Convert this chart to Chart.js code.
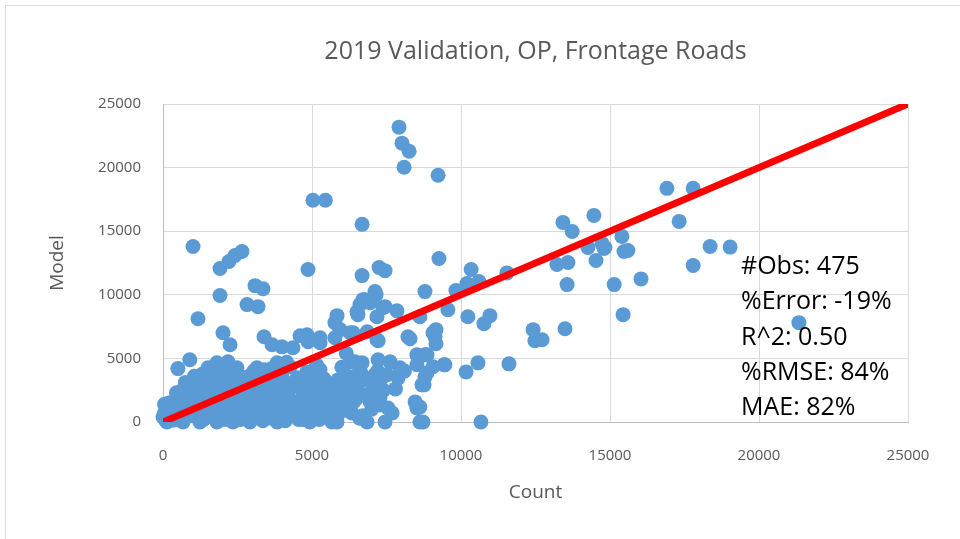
<!DOCTYPE html>
<html>
<head>
<meta charset="utf-8">
<title>2019 Validation, OP, Frontage Roads</title>
<script src="https://cdn.jsdelivr.net/npm/chart.js@4"></script>
<style>
    html, body { margin: 0; padding: 0; background: #ffffff; overflow: hidden; }
    #wrap { position: relative; width: 960px; height: 539px; }
    #frame { position: absolute; left: 5px; top: 5px; width: 1000px; height: 600px; border: 1px solid #d9d9d9; }
    #validationChart { position: absolute; left: 0; top: 0; }
</style>
</head>
<body>
<div id="wrap">
    <div id="frame"></div>
    <canvas id="validationChart" width="960" height="539"></canvas>
</div>
<script>
// Observed counts (x) and modelled volumes (y), one entry per link
const countVals = [
    1007, 5030, 5450, 7920, 8020, 8260, 8090, 9230, 6680, 1913, 2215, 2416, 2650, 4866,
    6680, 7250, 7450, 9260, 3088, 3356, 1913, 7115, 8790, 16910, 17790, 17320, 18360, 19030,
    17790, 13420, 13730, 14460, 15400, 15470, 15600, 14260, 14730, 14800, 14530, 13220, 13590, 13560,
    15140, 16040, 10340, 10600, 10200, 11540, 9830, 15440, 9560, 10230, 10970, 10770, 12420, 12480,
    12720, 13490, 9160, 9130, 9160, 8790, 9430, 9060, 10570, 10170, 11610, 8790, 8760, 8620,
    8725, 10670, 21340, 14830,
    7150, 6710, 6610, 6950, 7450, 7850, 6540, 5840, 7180, 8620, 5940, 6380, 6850, 8220,
    4833, 5270, 8290, 9060, 7180, 5270, 6340, 6680, 7220, 7620, 7950, 8520, 8860, 8520,
    9460, 8860, 8690, 7520, 7890, 5840, 6510, 7050, 7220, 7280, 6040, 8460, 8520, 8620,
    7690, 7450, 6340, 6850, 5670, 5770, 6510, 6780, 7380, 5770, 6280, 7220, 6440, 7280,
    5840, 5870, 6180,
    2820, 3188, 1175, 2014, 2250, 3390, 3660, 3990, 4360, 4600, 4870, 5270, 4830, 4500,
    5170, 4830, 5370, 5670, 5370, 4930, 4260, 4500, 4930, 3860, 3830, 3260, 3260, 2920,
    2350, 1810, 1240, 670, 130, 500, 900, 740, 235, 0, 1510, 1810, 2180, 2480,
    1810, 1510, 1240, 1140, 970, 2350, 2480, 3150, 3260, 3590, 2920, 2250, 1810, 2580,
    3830, 4160, 3990, 4260, 3830, 2150, 1410,
    200, 400, 600, 800, 1000, 1200, 1400, 1600, 1800, 2000, 2200, 2400, 2600, 2800,
    3000, 3200, 3400, 3600, 3800, 4000, 4200, 4400, 4600, 4800, 5000, 5200, 5400, 5600,
    5800, 6000, 6200, 6400, 6600, 6800, 7000, 7200,
    100, 300, 350, 550, 700, 850, 950, 1100, 1300, 1350, 1500, 1650, 1700, 1900,
    2050, 2100, 2300, 2450, 2550, 2700, 2750, 2900, 3050, 3100, 3300, 3350, 3450, 3550,
    3700, 3750, 3900, 4050, 4100, 4300, 4450, 4550, 4700, 4750, 4900, 5050, 5100, 5300,
    450, 650, 1050, 1250, 1450, 1550, 1750, 1950, 2150, 2350, 2650, 2850, 3150, 3250,
    3500, 3650, 3850, 3950, 4150, 4350, 4650, 4850, 5150, 5500, 5650, 5950, 6150, 6450,
    50, 150, 250, 1150, 1850, 2500, 3400, 4250, 5250, 6250, 6700, 7350, 7800, 8100,
    150, 300, 500, 650, 800, 950, 1100, 1250, 1400, 1550, 1700, 1850, 2000, 2150,
    2300, 2450, 2600, 2750, 2900, 3050, 3200, 3350, 3500, 3650, 3800, 3950, 4100, 4250,
    4400, 4550, 4700, 4850, 5000, 5150, 5300, 5450, 5600, 5750, 5900, 6050, 6200, 6350,
    6500, 6650, 6800, 6950, 7100, 7250, 7400, 7550,
    50, 200, 350, 450, 600, 750, 900, 1050, 1200, 1350, 1500, 300, 700, 1150,
    1600, 1900, 2400, 2950, 3400, 3900,
    3100, 3300, 3500, 3700, 3900, 4100, 4300, 4500, 4700, 4900, 5100, 5300, 5500, 5700,
    5900, 6100, 2700, 2500, 2300, 2100, 1900, 1700, 1500, 1300, 1100
];
const modelVals = [
    13800, 17430, 17430, 23180, 21920, 21290, 20030, 19400, 15540, 12070, 12620, 13090, 13400, 11990,
    11510, 12150, 11900, 12850, 10720, 10480, 9940, 10250, 10250, 18370, 18370, 15770, 13800, 13750,
    12300, 15690, 14980, 16240, 14590, 13400, 13480, 13720, 14040, 13640, 12700, 12380, 12540, 10800,
    10800, 11250, 11990, 11040, 10880, 11720, 10330, 8440, 8830, 8280, 8360, 7730, 7260, 6390,
    6470, 7330, 7260, 6700, 6150, 5280, 4500, 4340, 4650, 3940, 4570, 3550, 2920, 1180,
    0, 0, 7810, 13720,
    10010, 9620, 9230, 9380, 9070, 8750, 8440, 8360, 8280, 8280, 7260, 7020, 7100, 6700,
    6860, 6620, 6550, 7020, 6470, 6230, 4730, 4650, 4890, 4730, 4260, 5280, 5280, 4500,
    4500, 3860, 2920, 3710, 3470, 3150, 2760, 2760, 2370, 1340, 2130, 1580, 1100, 0,
    710, 0, 710, 0, 0, 7810, 8670, 9620, 8990, 6620, 7020, 6390, 4730, 1890,
    0, 3310, 2290,
    9230, 9070, 8120, 7020, 6070, 6700, 6070, 5910, 5840, 6780, 6310, 4100, 3940, 3470,
    3150, 2520, 2130, 1500, 790, 950, 1100, 390, 0, 710, 0, 1100, 390, 0,
    0, 0, 0, 0, 0, 4200, 4890, 1730, 790, 390, 4260, 4650, 4730, 4260,
    3710, 3080, 2520, 1970, 1180, 3310, 3150, 4260, 3310, 2760, 2290, 1970, 1730, 1500,
    2290, 2520, 3550, 4340, 4650, 950, 710,
    200, 600, 300, 900, 500, 1500, 300, 1100, 2600, 400, 1300, 2400, 600, 1800,
    3000, 1500, 500, 1900, 3300, 1300, 2000, 600, 2900, 1700, 2400, 500, 3400, 2600,
    1200, 4300, 3600, 1600, 300, 3300, 1000, 4000,
    100, 1200, 150, 2100, 400, 2900, 1600, 700, 3400, 200, 2000, 3600, 600, 2800,
    1100, 200, 3900, 800, 2300, 400, 3500, 1300, 4000, 700, 2600, 100, 1800, 3700,
    500, 2200, 1000, 3000, 100, 2700, 1400, 200, 2100, 3200, 900, 1700, 300, 2800,
    300, 2500, 3200, 100, 1900, 3900, 600, 2200, 1000, 100, 2900, 600, 2000, 300,
    1200, 4200, 2500, 800, 4700, 1500, 1100, 200, 4500, 2700, 600, 1800, 5400, 3600,
    1400, 500, 1000, 600, 300, 1000, 300, 3000, 200, 1300, 500, 3500, 2600, 4000,
    600, 200, 1000, 300, 1400, 700, 2200, 400, 1800, 900, 2700, 100, 1500, 3300,
    800, 1900, 200, 2600, 1000, 500, 2000, 1300, 2800, 300, 1100, 2300, 700, 1600,
    3000, 900, 200, 3500, 1200, 1900, 3000, 1000, 2100, 400, 1700, 2800, 900, 3100,
    1900, 3800, 2100, 1600, 3700, 2900, 2500, 1100,
    700, 1500, 900, 2300, 1700, 3100, 2500, 3600, 2900, 3800, 2400, 300, 600, 1900,
    3300, 4300, 1100, 3700, 4100, 2600,
    600, 1800, 1100, 300, 1700, 2700, 900, 1600, 1100, 2000, 1400, 1200, 600, 2200,
    700, 1200, 900, 1700, 500, 2700, 1000, 400, 1200, 2300, 1600
];

// 1:1 reference line
const lineX = [0, 25000];
const lineY = [0, 25000];

// Axis range
const axisMin = 0;
const axisMax = 25000;
const axisStep = 5000;

// Summary statistics shown in the plot
const statLines = ['#Obs: 475', '%Error: -19%', 'R^2: 0.50', '%RMSE: 84%', 'MAE: 82%'];

const FONT = '"Open Sans", sans-serif';
const GREY = '#595959';

// Draws the statistics block inside the plot area
const statsPlugin = {
    id: 'statsText',
    afterDraw(chart) {
        const { ctx, chartArea } = chart;
        ctx.save();
        ctx.font = '25px ' + FONT;
        ctx.fillStyle = '#000000';
        ctx.textAlign = 'left';
        ctx.textBaseline = 'middle';
        statLines.forEach((line, i) => {
            ctx.fillText(line, chartArea.left + 578, chartArea.top + 163 + i * 35.3);
        });
        ctx.restore();
    }
};

const points = countVals.map((x, i) => ({ x, y: modelVals[i] }));
const linePoints = lineX.map((x, i) => ({ x, y: lineY[i] }));

// plain numbers on the ticks, no thousands separator
const plainTick = value => String(value);

new Chart(document.getElementById('validationChart'), {
    type: 'scatter',
    data: {
        datasets: [
            {
                type: 'line',
                data: linePoints,
                borderColor: '#ff0000',
                borderWidth: 7,
                pointRadius: 0,
                fill: false,
                order: 0
            },
            {
                data: points,
                backgroundColor: '#5b9bd5',
                borderColor: '#5b9bd5',
                borderWidth: 0,
                pointRadius: 7.5,
                clip: false,
                order: 1
            }
        ]
    },
    options: {
        responsive: false,
        animation: false,
        layout: { padding: { left: 0, right: 52, top: 0, bottom: 0 } },
        plugins: {
            legend: { display: false },
            tooltip: { enabled: false },
            title: {
                display: true,
                fullSize: false,
                text: '2019 Validation, OP, Frontage Roads',
                color: GREY,
                font: { family: FONT, size: 25, weight: 'normal' },
                padding: { top: 37, bottom: 37 }
            }
        },
        scales: {
            x: {
                type: 'linear',
                min: axisMin,
                max: axisMax,
                ticks: { stepSize: axisStep, color: GREY, font: { family: FONT, size: 15 }, padding: 25, callback: plainTick },
                grid: { color: '#d9d9d9', drawTicks: false },
                border: { color: '#bfbfbf' },
                title: { display: true, text: 'Count', color: GREY, font: { family: FONT, size: 19 }, padding: { bottom: 35 } },
                afterFit(scale) { scale.height = 117; }
            },
            y: {
                type: 'linear',
                min: axisMin,
                max: axisMax,
                ticks: { stepSize: axisStep, color: GREY, font: { family: FONT, size: 15 }, padding: 22, callback: plainTick },
                grid: { color: '#d9d9d9', drawTicks: false },
                border: { color: '#bfbfbf' },
                title: { display: true, text: 'Model', color: GREY, font: { family: FONT, size: 19 }, padding: { top: 46 } },
                afterFit(scale) { scale.width = 163; }
            }
        }
    },
    plugins: [statsPlugin]
});
</script>
</body>
</html>
